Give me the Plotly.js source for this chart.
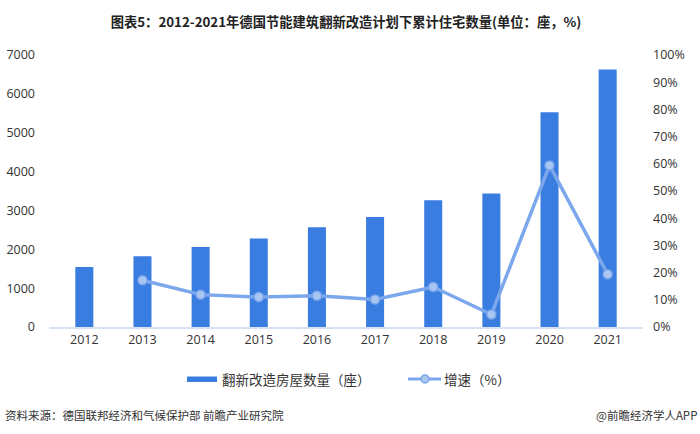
<!DOCTYPE html>
<html>
<head>
<meta charset="utf-8">
<script src="https://cdn.plot.ly/plotly-3.0.1.min.js"></script>
<style>html,body{margin:0;padding:0;background:#fff;}#chart{width:700px;height:434px;}</style>
</head>
<body>
<div id="chart"></div>
<script>
const years = ['2012','2013','2014','2015','2016','2017','2018','2019','2020','2021'];
const houses = [1545, 1820, 2060, 2275, 2565, 2830, 3260, 3435, 5525, 6630];
const growth = [null, 17.2, 11.9, 11.0, 11.5, 10.1, 14.7, 4.6, 59.4, 19.4];
const leftTicks = [0,1000,2000,3000,4000,5000,6000,7000];
const rightTicks = [0,10,20,30,40,50,60,70,80,90,100];
const barName = '翻新改造房屋数量（座）';
const lineName = '增速（%）';

const cjk = '"Noto Sans CJK SC", "Noto Sans", sans-serif';
const num = '"Open Sans", "Noto Sans", sans-serif';

const M = {l: 49, r: 57, t: 55, b: 107};
const W = 700, H = 434;
const pw = W - M.l - M.r, ph = H - M.t - M.b;
const px = x => (x - M.l) / pw;
const py = y => (H - M.b - y) / ph;

const barColor = '#3a7de0';
const lineColor = '#7ba7ec';
const markFill = '#a9c5f2';

const traces = [
  {
    type: 'bar', x: years, y: houses, name: barName,
    marker: {color: barColor}, yaxis: 'y'
  },
  {
    type: 'scatter', mode: 'lines+markers', x: years, y: growth, name: lineName,
    yaxis: 'y2', connectgaps: false,
    line: {color: lineColor, width: 3.5},
    marker: {size: 9, color: markFill, line: {color: lineColor, width: 1.5}}
  }
];

const layout = {
  width: W, height: H,
  margin: M,
  paper_bgcolor: '#ffffff', plot_bgcolor: '#ffffff',
  title: {
    text: '<b>图表5：2012-2021年德国节能建筑翻新改造计划下累计住宅数量(单位：座，%)</b>',
    font: {family: cjk, size: 13.3, color: '#222'},
    x: 0.5, xanchor: 'center', y: 0.949, yanchor: 'middle', xref: 'paper'
  },
  bargap: 0.69,
  showlegend: false,
  xaxis: {
    type: 'category', tickfont: {family: num, size: 12.5, color: '#333'},
    showline: true, linecolor: '#d6e2f2', linewidth: 1.5, ticks: '', showgrid: false,
    zeroline: false
  },
  yaxis: {
    range: [0, 7000], tickvals: leftTicks, ticktext: leftTicks.map(String),
    tickfont: {family: num, size: 12.5, color: '#333'},
    showgrid: false, zeroline: false, showline: false, ticks: '', ticklabelstandoff: 13
  },
  yaxis2: {
    overlaying: 'y', side: 'right', range: [0, 100], tickvals: rightTicks,
    ticktext: rightTicks.map(v => v + '%'),
    tickfont: {family: num, size: 12.5, color: '#333'},
    showgrid: false, zeroline: false, showline: false, ticks: '', ticklabelstandoff: 9
  },
  shapes: [
    {type: 'rect', xref: 'paper', yref: 'paper', x0: px(187), x1: px(217), y0: py(382), y1: py(376.5),
     fillcolor: barColor, line: {width: 0}},
    {type: 'line', xref: 'paper', yref: 'paper', x0: px(408), x1: px(441), y0: py(379), y1: py(379),
     line: {color: lineColor, width: 3}},
    {type: 'circle', xref: 'paper', yref: 'paper', x0: px(421), x1: px(429), y0: py(383), y1: py(375),
     fillcolor: markFill, line: {color: lineColor, width: 1.5}}
  ],
  annotations: [
    {text: barName, xref: 'paper', yref: 'paper', x: px(220), y: py(379),
     xanchor: 'left', yanchor: 'middle', showarrow: false,
     font: {family: cjk, size: 13.5, color: '#333'}},
    {text: lineName, xref: 'paper', yref: 'paper', x: px(442), y: py(379),
     xanchor: 'left', yanchor: 'middle', showarrow: false,
     font: {family: cjk, size: 13.5, color: '#333'}},
    {text: '资料来源：德国联邦经济和气候保护部 前瞻产业研究院', xref: 'paper', yref: 'paper',
     x: px(3), y: py(415), xanchor: 'left', yanchor: 'middle', showarrow: false,
     font: {family: cjk, size: 11.5, color: '#333'}},
    {text: '@前瞻经济学人APP', xref: 'paper', yref: 'paper',
     x: px(699), y: py(415), xanchor: 'right', yanchor: 'middle', showarrow: false,
     font: {family: cjk, size: 11.5, color: '#333'}}
  ]
};

Plotly.newPlot('chart', traces, layout, {displayModeBar: false, staticPlot: true});
</script>
</body>
</html>
